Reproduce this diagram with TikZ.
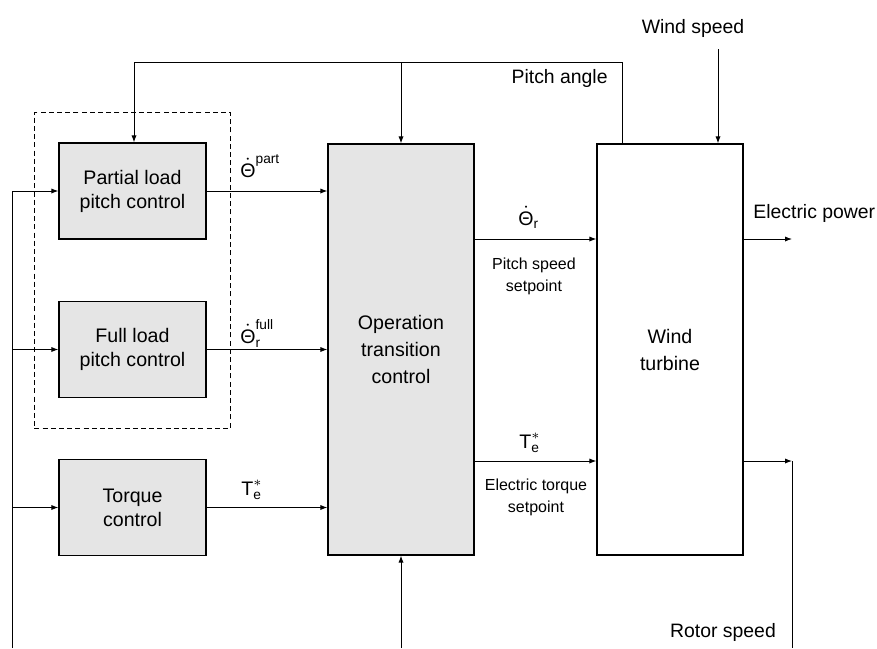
\documentclass[tikz,border=0pt]{standalone}
\usepackage{fontspec}
\setmainfont{Liberation Sans}
\usepackage{amsmath}
\usetikzlibrary{arrows.meta, positioning, fit}
\definecolor{bgrey}{HTML}{E5E5E5}

\begin{document}
\begin{tikzpicture}[x=0.5pt, y=-0.5pt,
  blk/.style={draw, line width=0.6pt, fill=bgrey, minimum width=73.5pt, minimum height=48pt,
    align=center, inner sep=0pt, font=\fontsize{9.8}{12}\selectfont},
  tallblk/.style={blk, minimum width=73pt, minimum height=205.5pt, font=\fontsize{9.8}{13.5}\selectfont},
  sig/.style={line width=0.5pt, -{Latex[length=3.5pt,width=2.6pt]}},
  wire/.style={line width=0.5pt},
  txt/.style={inner sep=0pt, font=\fontsize{9.7}{12}\selectfont},
  smalltxt/.style={inner sep=0pt, align=center, font=\fontsize{8}{11}\selectfont},
  sym/.style={inner sep=0pt, anchor=base west, font=\fontsize{9.8}{12}\selectfont}]
\useasboundingbox (0,0) rectangle (877,648);

% controllers
\node[blk] (partial) at (132.5,191) {Partial load\\pitch control};
\node[blk] (full) at (132.5,349.5) {Full load\\pitch control};
\node[blk] (torque) at (132.5,507.5) {Torque\\control};
\node[draw, line width=0.5pt, dash pattern=on 2.5pt off 1.6pt, inner xsep=12pt, inner ysep=15pt,
  fit=(partial)(full)] (pitchgrp) {};

% transition and plant
\node[tallblk] (op) at (401,349.5) {Operation\\transition\\control};
\node[tallblk, fill=white] (turb) at (670,349.5) {Wind\\turbine};

% free ends
\coordinate (fbbot) at (12,648);
\coordinate (fbtop) at (12,191);
\coordinate (patop) at (622,62);
\coordinate (patl) at (134,62);
\coordinate (ws) at (718,49);
\coordinate (psy) at (0,239);
\coordinate (ety) at (0,461);
\coordinate (epend) at (792,239);
\coordinate (rs) at (792,461);

% rotor speed feedback
\draw[wire] (fbbot) -- (fbtop);
\foreach \b in {partial, full, torque}
  \draw[sig] (fbtop |- \b.west) -- (\b.west);
\draw[sig] (turb.east |- rs) -- (rs);
\draw[wire] (rs) -- (rs |- fbbot);
\draw[sig] (op.south |- fbbot) -- (op.south);

% controller outputs
\foreach \b in {partial, full, torque}
  \draw[sig] (\b.east) -- (\b.east -| op.west);
\draw[sig] (op.east |- psy) -- (turb.west |- psy);
\draw[sig] (op.east |- ety) -- (turb.west |- ety);
\draw[sig] (turb.east |- epend) -- (epend);

% pitch angle loop and wind
\draw[wire] (patop |- turb.north) -- (patop) -- (patl);
\draw[sig] (patl) -- (patl |- partial.north);
\draw[sig] (op.north |- patop) -- (op.north);
\draw[sig] (ws) -- (ws |- turb.north);

% labels
\node[sym] (thpart) at (240,177) {$\dot{\text{Θ}}^{\text{part}}$};
\node[sym] (thfull) at (240,343) {$\dot{\text{Θ}}_{\text{r}}^{\text{full}}$};
\node[sym] (tetq) at (241,495) {$\text{T}_{\text{e}}^{*}$};
\node[sym] (thr) at (518,225) {$\dot{\text{Θ}}_{\text{r}}$};
\node[sym] (teop) at (519,448) {$\text{T}_{\text{e}}^{*}$};
\node[smalltxt] (pslbl) at (534,276) {Pitch speed\\setpoint};
\node[smalltxt] (etlbl) at (536,497) {Electric torque\\setpoint};
\node[txt, anchor=east] (palbl) at (608,78) {Pitch angle};
\node[txt] (wslbl) at (693,28) {Wind speed};
\node[txt, anchor=west] (eplbl) at (753,213) {Electric power};
\node[txt] (rslbl) at (723,632) {Rotor speed};
\end{tikzpicture}
\end{document}
